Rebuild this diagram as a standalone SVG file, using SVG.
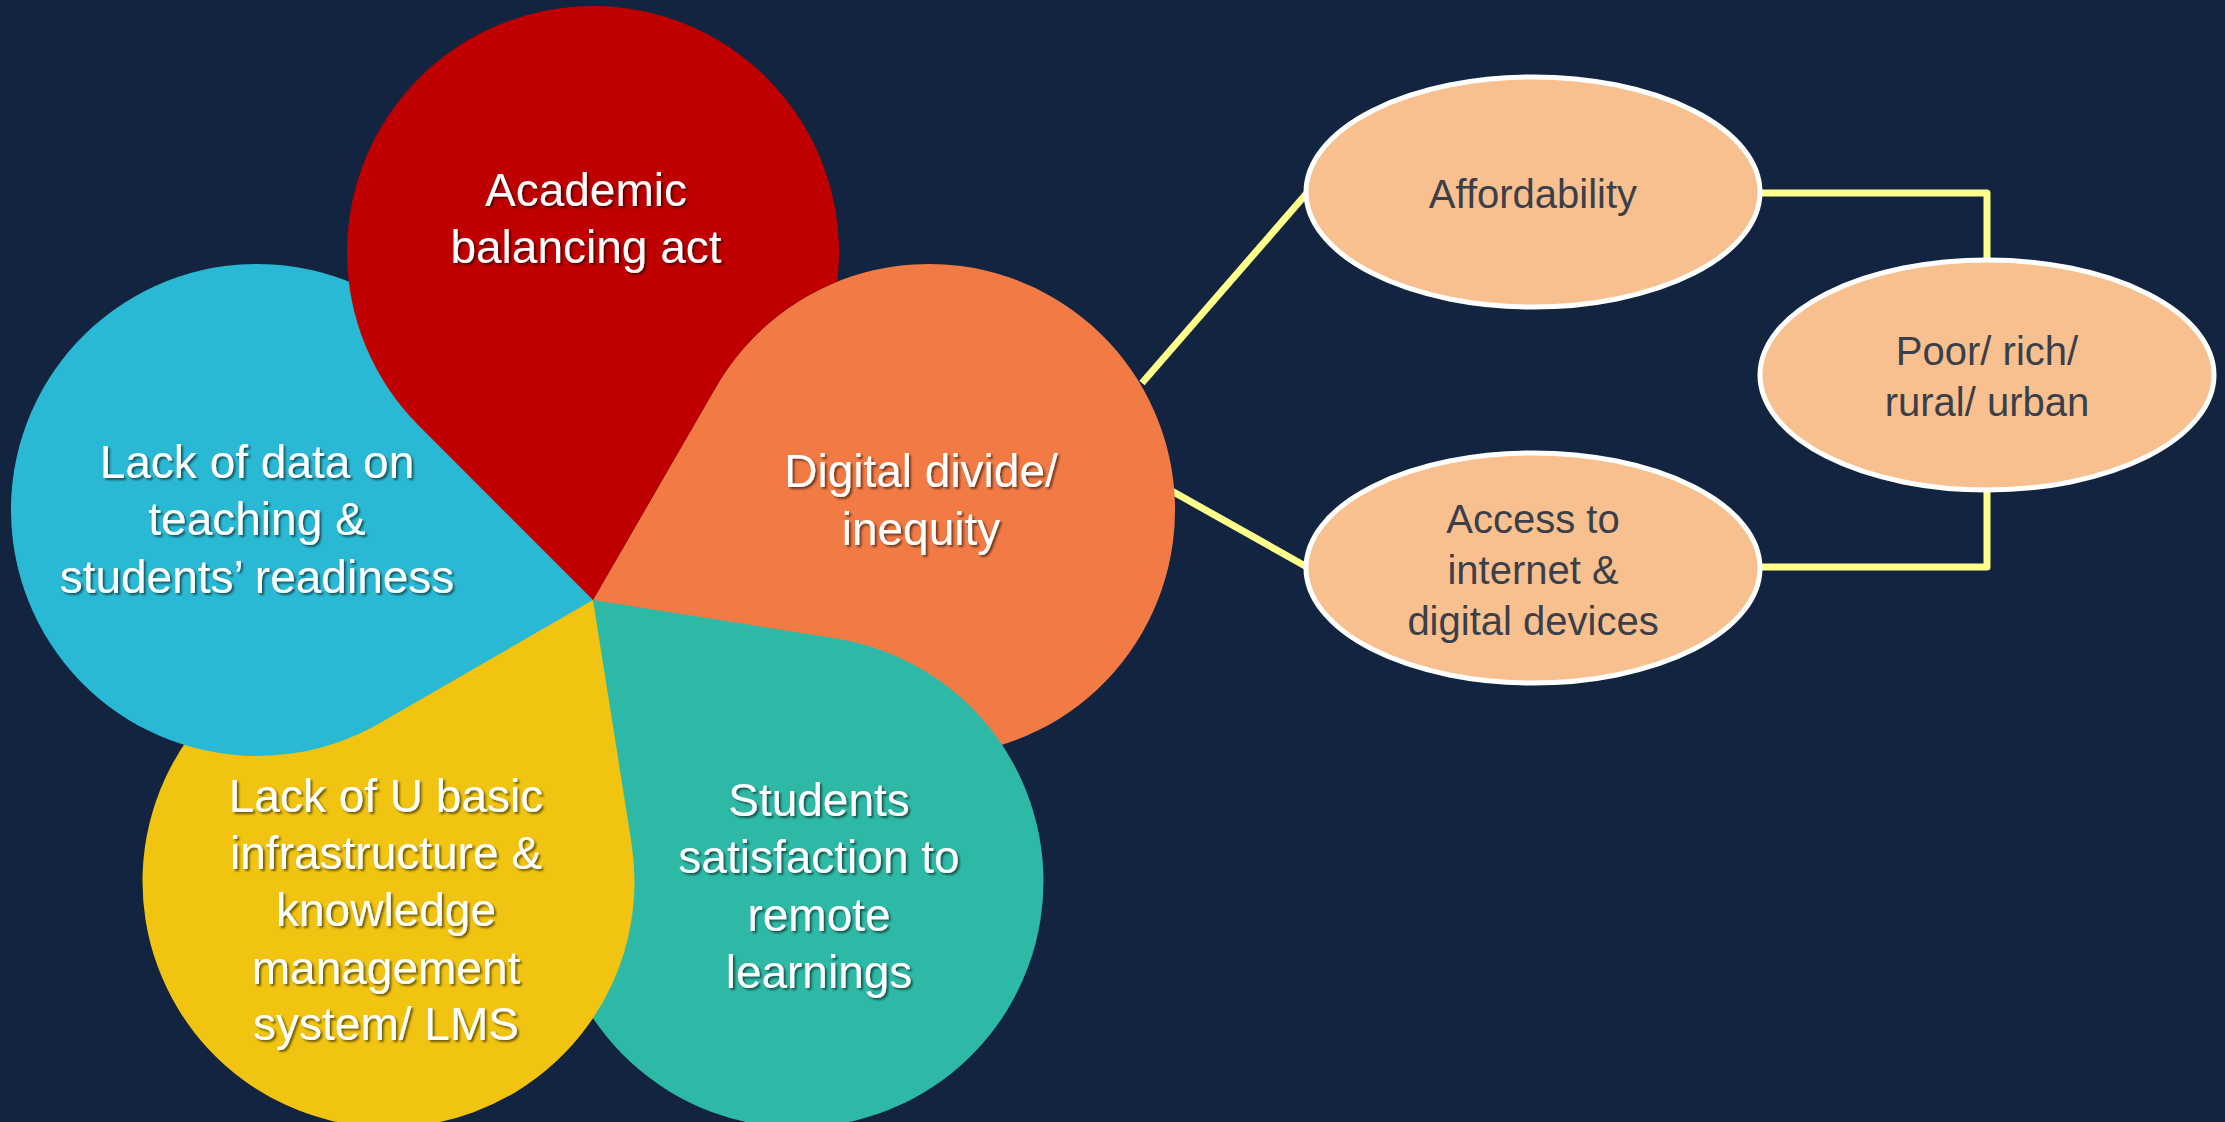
<svg xmlns="http://www.w3.org/2000/svg" width="2225" height="1122" viewBox="0 0 2225 1122">
<defs>
<style>
.lbl{font-family:"Liberation Sans",Arial,sans-serif;font-size:46px;fill:#ffffff;text-anchor:middle;filter:url(#sh)}
.olbl{font-family:"Liberation Sans",Arial,sans-serif;font-size:40px;fill:#3a3f4a;text-anchor:middle}
.oval{fill:#f9c08f;stroke:#ffffff;stroke-width:5}
.con{fill:none;stroke:#ffff8c;stroke-width:7;stroke-linejoin:round}
</style>
<filter id="sh" x="-10%" y="-20%" width="130%" height="150%">
<feDropShadow dx="2" dy="2" stdDeviation="1" flood-color="#000000" flood-opacity="0.55"/>
</filter>
<path id="orangeShape" d="M593,600 L716,386.96 A246,246 0 1 1 806.04,723 Z"/>
<mask id="notOrange" maskUnits="userSpaceOnUse" x="0" y="0" width="2225" height="1122">
<rect x="0" y="0" width="2225" height="1122" fill="#ffffff"/>
<use href="#orangeShape" fill="#000000"/>
</mask>
</defs>
<rect x="0" y="0" width="2225" height="1122" fill="#12243f"/>

<g id="connectors">
<line class="con" x1="1142" y1="383" x2="1307" y2="193"/>
<line class="con" x1="1170" y1="490" x2="1307" y2="567"/>
<polyline class="con" points="1760,193 1987,193 1987,260"/>
<polyline class="con" points="1760,567 1987,567 1987,490"/>
</g>

<g id="node-digital-divide">
<use href="#orangeShape" fill="#f27a44"/>
<text class="lbl" x="921" y="487">Digital divide/</text>
<text class="lbl" x="921" y="545">inequity</text>
</g>

<g id="node-students-satisfaction">
<path d="M593,600 L835.97,638.48 A246,246 0 1 1 554.52,842.97 Z" fill="#2eb9a6"/>
<text class="lbl" x="819" y="816">Students</text>
<text class="lbl" x="819" y="873">satisfaction to</text>
<text class="lbl" x="819" y="931">remote</text>
<text class="lbl" x="819" y="988">learnings</text>
</g>

<g id="node-infrastructure">
<path d="M593,600 L631.48,842.97 A246,246 0 1 1 350.03,638.48 Z" fill="#f0c410"/>
<text class="lbl" x="386" y="812">Lack of U basic</text>
<text class="lbl" x="386" y="869">infrastructure &amp;</text>
<text class="lbl" x="386" y="926">knowledge</text>
<text class="lbl" x="386" y="984">management</text>
<text class="lbl" x="386" y="1040">system/ LMS</text>
</g>

<g id="node-lack-of-data">
<path d="M593,600 L379.96,723 A246,246 0 1 1 470,386.96 Z" fill="#2ab9d4"/>
<text class="lbl" x="257" y="478">Lack of data on</text>
<text class="lbl" x="257" y="535">teaching &amp;</text>
<text class="lbl" x="257" y="593">students’ readiness</text>
</g>

<g id="node-academic">
<path d="M593,600 L419.1,426.1 A246,246 0 1 1 766.9,426.1 Z" fill="#c00000" mask="url(#notOrange)"/>
<text class="lbl" x="586" y="206">Academic</text>
<text class="lbl" x="586" y="263">balancing act</text>
</g>

<g id="node-affordability">
<ellipse class="oval" cx="1533" cy="192" rx="227" ry="115"/>
<text class="olbl" x="1533" y="208">Affordability</text>
</g>

<g id="node-access">
<ellipse class="oval" cx="1533" cy="568" rx="227" ry="115"/>
<text class="olbl" x="1533" y="533">Access to</text>
<text class="olbl" x="1533" y="584">internet &amp;</text>
<text class="olbl" x="1533" y="635">digital devices</text>
</g>

<g id="node-poor-rich">
<ellipse class="oval" cx="1987" cy="375" rx="227" ry="115"/>
<text class="olbl" x="1987" y="365">Poor/ rich/</text>
<text class="olbl" x="1987" y="416">rural/ urban</text>
</g>
</svg>
